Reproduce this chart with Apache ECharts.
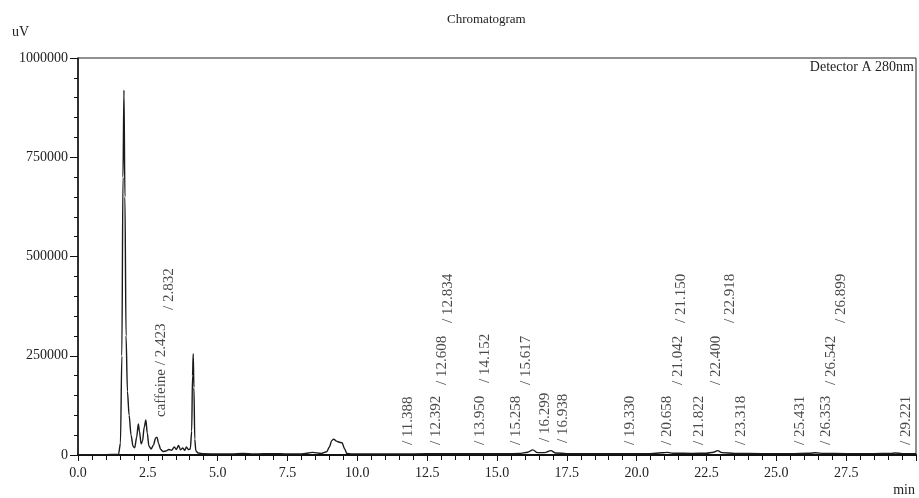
<!DOCTYPE html>
<html>
<head>
<meta charset="utf-8">
<script src="https://cdn.jsdelivr.net/npm/echarts@6/dist/echarts.min.js"></script>
<style>
html,body{margin:0;padding:0;background:#fff;}
#chart{width:919px;height:498px;}
</style>
</head>
<body>
<div id="chart"></div>
<script>
// ---- data ----
var times = [0, 1.0, 1.45, 1.52, 1.57, 1.61, 1.645, 1.68, 1.72, 1.77, 1.83, 1.90, 1.97, 2.03, 2.10, 2.16, 2.20, 2.26, 2.31, 2.37, 2.43, 2.48, 2.54, 2.62, 2.70, 2.78, 2.83, 2.88, 2.96, 3.05, 3.15, 3.25, 3.35, 3.45, 3.52, 3.60, 3.67, 3.75, 3.82, 3.88, 3.95, 4.02, 4.07, 4.10, 4.125, 4.15, 4.18, 4.22, 4.30, 4.5, 5.0, 5.5, 5.9, 6.3, 7.0, 7.5, 8.0, 8.4, 8.7, 8.9, 9.0, 9.08, 9.15, 9.25, 9.35, 9.45, 9.55, 9.62, 9.8, 10.5, 11.5, 12.5, 13.5, 14.5, 15.3, 15.8, 16.1, 16.28, 16.45, 16.7, 16.93, 17.1, 17.5, 18.5, 19.5, 20.5, 20.9, 21.1, 21.3, 22.0, 22.5, 22.75, 22.9, 23.05, 23.5, 24.5, 25.5, 26.2, 26.4, 26.7, 27.5, 28.5, 29.1, 29.25, 29.5, 30.0];
var signal = [800, 800, 1500, 30000, 250000, 700000, 919000, 650000, 300000, 160000, 100000, 50000, 22000, 18000, 45000, 78000, 60000, 28000, 35000, 70000, 88000, 55000, 22000, 15000, 25000, 43000, 45000, 30000, 14000, 9000, 10000, 14000, 12000, 20000, 14000, 24000, 13000, 18000, 12000, 20000, 14000, 15000, 60000, 200000, 255000, 170000, 40000, 10000, 5000, 3000, 2500, 2500, 4000, 2500, 3500, 2500, 2500, 6500, 4000, 8000, 20000, 36000, 40000, 35000, 32000, 31000, 15000, 4000, 2500, 2500, 2500, 3000, 3000, 3500, 3000, 4000, 7000, 13000, 6000, 6000, 11000, 5000, 3500, 3000, 3000, 3500, 5500, 6500, 4500, 4000, 4500, 7000, 11000, 6000, 4000, 3500, 3500, 4500, 5500, 4000, 3500, 3500, 4000, 5000, 3500, 3500];

var peakTimes = [2.423, 2.832, 11.388, 12.392, 12.608, 12.834, 13.950, 14.152, 15.258, 15.617, 16.299, 16.938, 19.330, 20.658, 21.042, 21.150, 21.822, 22.400, 22.918, 23.318, 25.431, 26.353, 26.542, 26.899, 29.221];
var peakNames = ['caffeine', '', '', '', '', '', '', '', '', '', '', '', '', '', '', '', '', '', '', '', '', '', '', '', ''];

var xTicks = { min: 0, max: 30, interval: 2.5 };
var yTicks = { min: 0, max: 1000000, interval: 250000 };

// ---- layout only (pixel lift of each peak label above the baseline) ----
var labelLift = [38, 145, 10, 10, 70, 132, 10, 72, 10, 70, 13, 12, 10, 10, 70, 132, 10, 70, 132, 10, 10, 10, 70, 132, 10];

var trace = times.map(function (t, i) { return [t, signal[i]]; });
var labelData = peakTimes.map(function (t, i) {
  return {
    value: [t, 0],
    name: (peakNames[i] ? peakNames[i] + ' ' : '') + '/ ' + t.toFixed(3),
    label: { position: [i === 0 ? 15 : 12, -labelLift[i]] }
  };
});

var serif = '"Liberation Serif", "DejaVu Serif", serif';
var chart = echarts.init(document.getElementById('chart'), null, { renderer: 'canvas' });
chart.setOption({
  animation: false,
  backgroundColor: '#fff',
  title: {
    text: 'Chromatogram',
    left: 442,
    top: 8,
    textStyle: { fontFamily: serif, fontSize: 13, fontWeight: 'normal', color: '#222' }
  },
  graphic: [
    { type: 'text', left: 12, top: 25, style: { text: 'uV', font: '14px ' + serif, fill: '#222' } },
    { type: 'text', right: 4, top: 483, style: { text: 'min', font: '14px ' + serif, fill: '#222' } },
    { type: 'text', right: 5, top: 60, style: { text: 'Detector A 280nm', font: '14px ' + serif, fill: '#222' } }
  ],
  grid: { left: 78, right: 3, top: 58, bottom: 43, show: true, borderColor: '#222', borderWidth: 1, backgroundColor: 'transparent' },
  xAxis: {
    type: 'value',
    min: xTicks.min, max: xTicks.max, interval: xTicks.interval,
    axisLine: { onZero: false, lineStyle: { color: '#111', width: 2 } },
    axisTick: { show: true, length: 6, lineStyle: { color: '#111', width: 1 } },
    minorTick: { show: true, splitNumber: 5, length: 5, lineStyle: { color: '#111', width: 1 } },
    splitLine: { show: false },
    axisLabel: {
      showMaxLabel: false,
      fontFamily: serif, fontSize: 14, color: '#222', margin: 11,
      formatter: function (v) { return v.toFixed(1); }
    }
  },
  yAxis: {
    type: 'value',
    min: yTicks.min, max: yTicks.max, interval: yTicks.interval,
    axisLine: { show: true, lineStyle: { color: '#111', width: 1.5 } },
    axisTick: { show: true, length: 8, lineStyle: { color: '#111', width: 1 } },
    minorTick: { show: true, splitNumber: 5, length: 4, lineStyle: { color: '#111', width: 1 } },
    splitLine: { show: false },
    axisLabel: {
      fontFamily: serif, fontSize: 14, color: '#222', margin: 10,
      formatter: function (v) { return String(v); }
    }
  },
  series: [
    {
      type: 'line',
      data: trace,
      showSymbol: false,
      symbol: 'none',
      smooth: 0.3,
      smoothMonotone: 'x',
      lineStyle: { color: '#1a1a1a', width: 1.4 },
      z: 3
    },
    {
      type: 'scatter',
      data: labelData,
      symbolSize: 0,
      silent: true,
      label: {
        show: true,
        formatter: function (p) { return p.name; },
        rotate: 90,
        align: 'left',
        verticalAlign: 'middle',
        fontFamily: serif,
        fontSize: 15,
        color: '#1a1a1a'
      },
      z: 4
    }
  ]
});
</script>
</body>
</html>
